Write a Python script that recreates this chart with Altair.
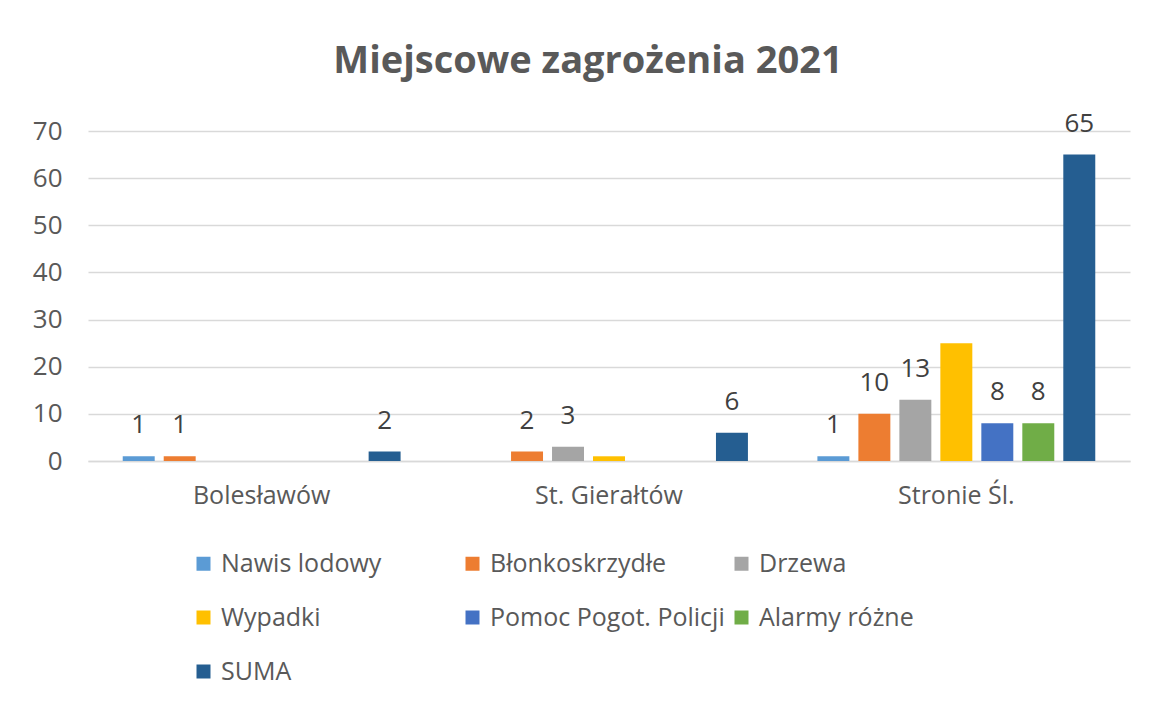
import altair as alt
import pandas as pd

categories = ["Bolesławów", "St. Gierałtów", "Stronie Śl."]
series = ["Nawis lodowy", "Błonkoskrzydłe", "Drzewa", "Wypadki",
          "Pomoc Pogot. Policji", "Alarmy różne", "SUMA"]
colors = ["#5B9BD5", "#ED7D31", "#A5A5A5", "#FFC000", "#4472C4", "#70AD47", "#255E91"]

nawis_lodowy = [1, 0, 1]
blonkoskrzydle = [1, 2, 10]
drzewa = [0, 3, 13]
wypadki = [0, 1, 25]
pomoc = [0, 0, 8]
alarmy = [0, 0, 8]
suma = [2, 6, 65]

labeled_series = ["Nawis lodowy", "Błonkoskrzydłe", "Drzewa",
                  "Pomoc Pogot. Policji", "Alarmy różne", "SUMA"]
y_ticks = [0, 10, 20, 30, 40, 50, 60, 70]

series_values = [nawis_lodowy, blonkoskrzydle, drzewa, wypadki, pomoc, alarmy, suma]
rows = []
for s, vals in zip(series, series_values):
    for c, v in zip(categories, vals):
        rows.append({"kategoria": c, "seria": s, "wartosc": v,
                     "etykieta": s in labeled_series and v > 0})
df = pd.DataFrame(rows)

FONT = "Open Sans"
GRAY = "#595959"

base = alt.Chart(df).encode(
    x=alt.X("kategoria:N", sort=categories, title=None,
            scale=alt.Scale(paddingInner=0.2, paddingOuter=0.1),
            axis=alt.Axis(labelAngle=0, labelFont=FONT, labelFontSize=25,
                          labelColor=GRAY, ticks=False, domainColor="#d9d9d9",
                          domainWidth=1.5, labelPadding=22)),
    xOffset=alt.XOffset("seria:N", sort=series,
                        scale=alt.Scale(paddingInner=0.22, paddingOuter=0)),
    y=alt.Y("wartosc:Q", title=None,
            scale=alt.Scale(domain=[0, 70], nice=False),
            axis=alt.Axis(values=y_ticks, labelFont=FONT, labelFontSize=26,
                          labelColor=GRAY, ticks=False, domain=False,
                          gridColor="#d9d9d9", gridWidth=1.5, labelPadding=26)),
)

bars = base.mark_bar().encode(
    color=alt.Color("seria:N",
                    scale=alt.Scale(domain=series, range=colors),
                    legend=alt.Legend(title=None, orient="none", legendX=103, legendY=420,
                                      direction="horizontal",
                                      columns=3, symbolType="square", symbolSize=196,
                                      symbolStrokeWidth=0, labelFont=FONT, labelFontSize=25,
                                      labelColor=GRAY, rowPadding=28, columnPadding=4,
                                      gridAlign="all", labelOffset=5, padding=0,
                                      labelLimit=400))
)

labels = base.mark_text(dy=-31, baseline="middle", font=FONT, fontSize=26,
                        color="#404040").encode(
    text=alt.Text("wartosc:Q")
).transform_filter("datum.etykieta")

chart = alt.layer(bars, labels).properties(
    width=1042, height=330,
    autosize=alt.AutoSizeParams(type="none"),
    padding={"left": 80, "top": 123, "right": 13, "bottom": 237},
    title=alt.Title("Miejscowe zagrożenia 2021", font=FONT, fontSize=38,
                    fontWeight="bold", color=GRAY, anchor="middle", frame="group",
                    offset=0, baseline="alphabetic", dx=-21),
).configure_view(strokeWidth=0)

chart.save("out.html", embed_options={"renderer": "svg", "actions": False})
